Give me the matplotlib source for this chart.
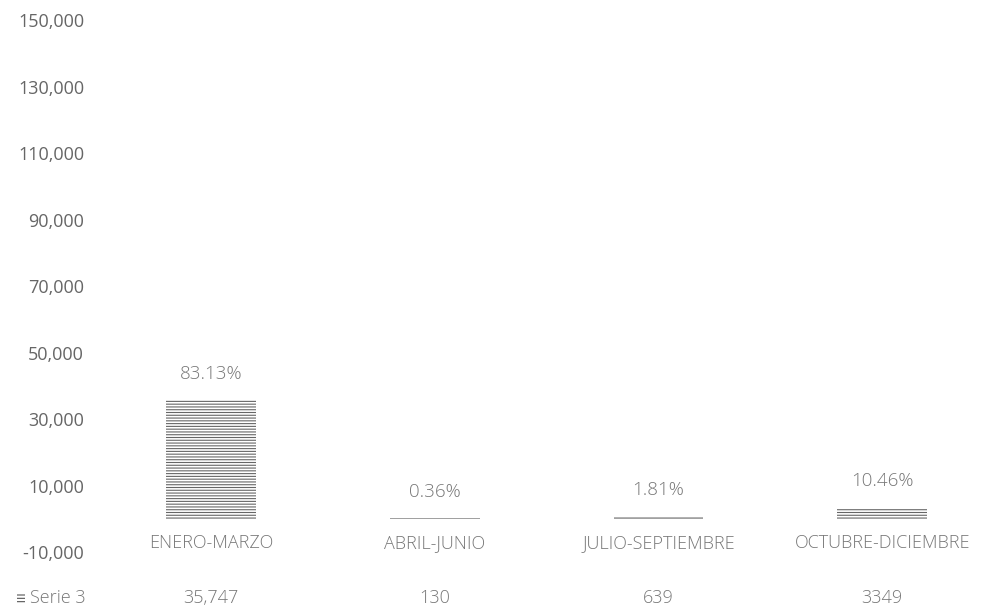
import matplotlib.pyplot as plt
from matplotlib.patches import Rectangle

# data
periodos = ["ENERO-MARZO", "ABRIL-JUNIO", "JULIO-SEPTIEMBRE", "OCTUBRE-DICIEMBRE"]
valores = [35747, 130, 639, 3349]
tabla = ["35,747", "130", "639", "3349"]
porcentajes = ["83.13%", "0.36%", "1.81%", "10.46%"]
yticks = [-10000, 10000, 30000, 50000, 70000, 90000, 110000, 130000, 150000]
serie = "Serie 3"

plt.rcParams['font.family'] = ['Open Sans', 'DejaVu Sans']
plt.rcParams['hatch.linewidth'] = 0.8
gris = "#777777"

fig = plt.figure(figsize=(9.94, 6.08), dpi=100)
ax = fig.add_axes([0.1, 0.092, 0.9, 0.875])

x = range(len(periodos))
bars = ax.bar(x, valores, width=0.4, color="white", edgecolor="#666666",
              hatch="------", linewidth=0)

for b, p in zip(bars, porcentajes):
    ax.annotate(p, (b.get_x() + b.get_width() / 2, b.get_height()),
                xytext=(0, 19), textcoords="offset points",
                ha="center", va="center", fontsize=13.5, color=gris,
                fontweight="light")

ax.set_xlim(-0.5, 3.5)
ax.set_ylim(-10000, 150000)
ax.set_yticks(yticks)
ax.set_yticklabels([f"{v:,}" for v in yticks], fontsize=13, color="#666666")
ax.tick_params(axis="y", length=0, pad=11)
ax.set_xticks([])
for s in ax.spines.values():
    s.set_visible(False)

# category labels and data table row below the plot
trans = ax.get_xaxis_transform()
for i, (cat, t) in enumerate(zip(periodos, tabla)):
    ax.text(i, 0.017, cat, transform=trans, ha="center", va="center",
            fontsize=13, color=gris, fontweight="light")
    ax.text(i, -0.087, t, transform=trans, ha="center", va="center",
            fontsize=13, color=gris, fontweight="light")

fig.text(0.03, 0.016, serie, ha="left", va="center", fontsize=13, color=gris,
         fontweight="light")
fig.patches.append(Rectangle((0.017, 0.009), 0.008, 0.014, transform=fig.transFigure,
                             facecolor="white", edgecolor="#555555", hatch="-----",
                             linewidth=0))

fig.savefig("out.png", dpi=100)
